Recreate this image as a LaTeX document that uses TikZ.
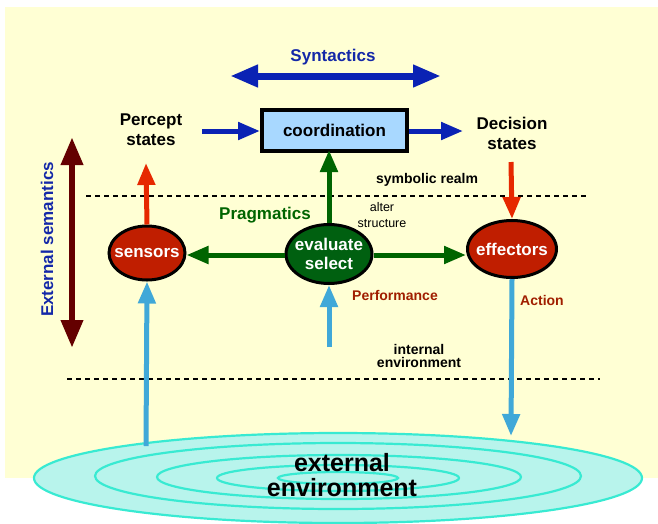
\documentclass[tikz,border=0pt]{standalone}
\usepackage{fontspec}
\setmainfont{Liberation Sans}
\usetikzlibrary{arrows.meta,shapes.geometric}
\definecolor{bgyellow}{HTML}{FFFFD4}
\definecolor{synblue}{HTML}{0A22B4}
\definecolor{txtblue}{HTML}{1428A8}
\definecolor{boxblue}{HTML}{A8D8FF}
\definecolor{brownred}{HTML}{640000}
\definecolor{arrred}{HTML}{E62800}
\definecolor{ellred}{HTML}{C01E00}
\definecolor{dgreen}{HTML}{006400}
\definecolor{ellgreen}{HTML}{006010}
\definecolor{lblue}{HTML}{40A8D8}
\definecolor{txtred}{HTML}{A01E00}
\definecolor{envline}{HTML}{38EAD2}
\definecolor{envfill}{HTML}{B8F4EC}
\tikzset{
  lbl/.style={font=\bfseries\fontsize{17}{20}\selectfont, align=center, inner sep=0pt},
  smalllbl/.style={font=\bfseries\fontsize{14}{14}\selectfont, align=center, inner sep=0pt},
  organ/.style={ellipse, draw=black, line width=3pt, inner sep=0pt},
  organtext/.style={text=white, font=\bfseries\fontsize{17}{19}\selectfont, align=center, inner sep=0pt},
  fat/.style={line width=5pt, -{Triangle[width=17pt,length=22pt]}},
  sep/.style={dashed, dash pattern=on 5pt off 4pt, line width=1.1pt},
  ring/.style={draw=envline, line width=2.2pt}
}
\begin{document}
\begin{tikzpicture}[x=1pt,y=-1pt]
\useasboundingbox (0,0) rectangle (658,523);
\fill[bgyellow] (5,7) rectangle (658,478);

% external environment rings
\filldraw[fill=envfill, ring] (338,478) ellipse [x radius=304, y radius=45];
\draw[ring] (338,476) ellipse [x radius=243, y radius=33];
\draw[ring] (339,477) ellipse [x radius=182, y radius=22];
\draw[ring] (338,478) ellipse [x radius=121, y radius=13];
\draw[ring] (338,478) ellipse [x radius=60, y radius=6];
\node[font=\bfseries\fontsize{25}{25}\selectfont, align=center, inner sep=0pt] (env) at (342,475) {external\\environment};

% separators
\coordinate (s1a) at (86,196); \coordinate (s1b) at (587,196);
\coordinate (s2a) at (67,379); \coordinate (s2b) at (600,379);
\draw[sep] (s1a) -- (s1b);
\draw[sep] (s2a) -- (s2b);

% top row
\node[lbl, text=txtblue] (syn) at (333,57) {Syntactics};
\coordinate (synL) at (230,76); \coordinate (synR) at (441,76);
\draw[synblue, line width=7pt, {Triangle[width=21pt,length=28pt]}-{Triangle[width=21pt,length=28pt]}] (synL) -- (synR);

\node[draw=black, line width=4pt, fill=boxblue, minimum width=145pt, minimum height=41pt, inner sep=0pt,
  font=\bfseries\fontsize{17}{20}\selectfont] (coord) at (334.5,130.5) {coordination};
\node[lbl] (percept) at (151,130) {Percept\\states};
\node[lbl] (decision) at (512,133) {Decision\\states};
\coordinate (pin) at (202,131);
\coordinate (dout) at (463,131);
\draw[fat, synblue] (pin) -- (coord.west |- pin);
\draw[fat, synblue] (coord.east |- pin) -- (dout);

% external semantics
\coordinate (esT) at (72,137); \coordinate (esB) at (72,348);
\draw[brownred, line width=6.5pt, {Triangle[width=21pt,length=28pt]}-{Triangle[width=21pt,length=28pt]}] (esT) -- (esB);
\node[lbl, text=txtblue, rotate=90] (extsem) at (47,239.5) {External semantics};

% organs
\node[organ, fill=ellred, minimum width=76pt, minimum height=54pt] (sensors) at (147,253) {};
\node[organ, fill=ellgreen, minimum width=86pt, minimum height=59pt] (eval) at (329,254) {};
\node[organ, fill=ellred, minimum width=89pt, minimum height=57pt] (effectors) at (512,249) {};
\node[organtext] (sensorsT) at (sensors) {sensors};
\node[organtext] (evalT) at (eval) {evaluate\\select};
\node[organtext] (effectorsT) at (effectors) {effectors};

% red arrows
\coordinate (sup) at (146,163);
\draw[fat, arrred] (sensors.north) -- (sup);
\coordinate (dtop) at (511,162);
\draw[fat, arrred] (dtop) -- (effectors.north);

% green arrows
\draw[fat, dgreen] (eval.north) -- ([yshift=3pt]eval.north |- coord.south);
\draw[fat, dgreen] (eval.west |- 0,255) -- (sensors.east |- 0,255);
\draw[fat, dgreen] (eval.east |- 0,255) -- (effectors.west |- 0,255);

% light blue arrows
\coordinate (evin) at (329,347);
\draw[fat, lblue] (evin) -- (eval.south);
\coordinate (senin) at (146,446);
\draw[fat, lblue] (senin) -- (sensors.south);
\coordinate (actout) at (511,436);
\draw[fat, lblue] (effectors.south) -- (actout);

% labels
\node[smalllbl] (symb) at (427,180) {symbolic realm};
\node[lbl, text=dgreen] (prag) at (265,215) {Pragmatics};
\node[font=\fontsize{12.5}{16}\selectfont, align=center, inner sep=0pt] (alter) at (382,215) {alter\\structure};
\node[smalllbl, text=txtred] (perf) at (395,295) {Performance};
\node[smalllbl, text=txtred] (act) at (542,300) {Action};
\node[font=\bfseries\fontsize{14}{13.5}\selectfont, align=center, inner sep=0pt] (internal) at (419,356) {internal\\environment};
\end{tikzpicture}
\end{document}
